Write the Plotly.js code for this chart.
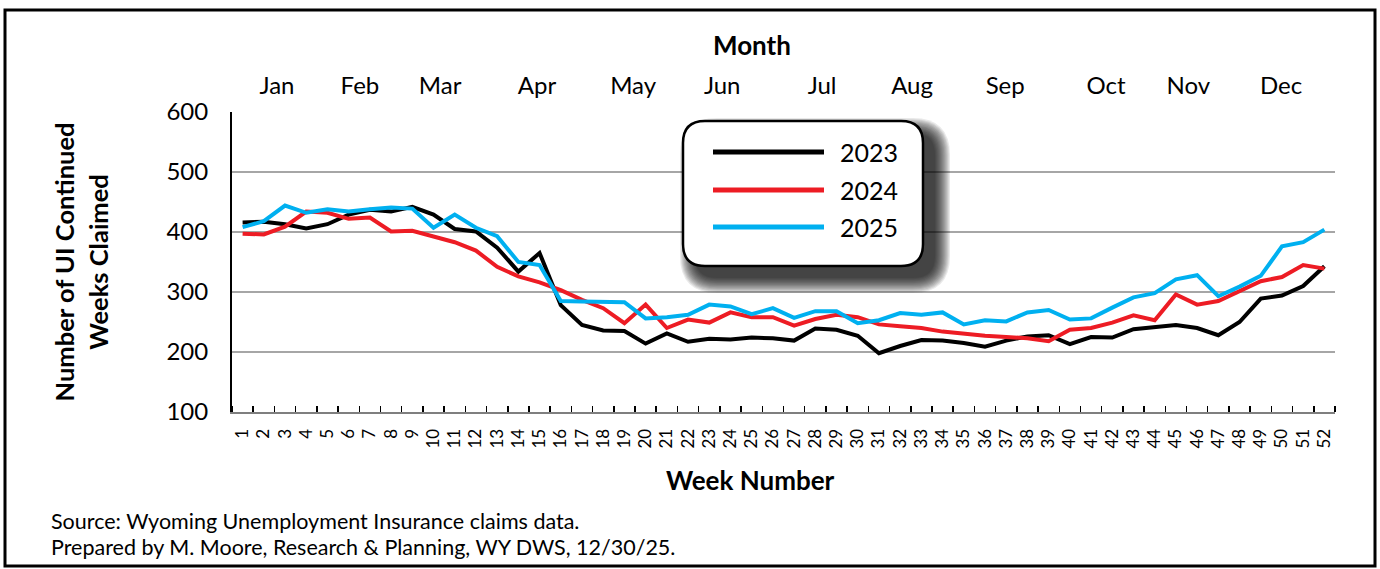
<!DOCTYPE html>
<html>
<head>
<meta charset="utf-8">
<script src="https://cdn.plot.ly/plotly-3.0.1.min.js"></script>
<style>html,body{margin:0;padding:0;background:#fff;}#chart{width:1380px;height:569px;}</style>
</head>
<body>
<div id="chart"></div>
<script>
// ---- data ----
const weeks = [1,2,3,4,5,6,7,8,9,10,11,12,13,14,15,16,17,18,19,20,21,22,23,24,25,26,27,28,29,30,31,32,33,34,35,36,37,38,39,40,41,42,43,44,45,46,47,48,49,50,51,52];
const claims2023 = [416,417,413,406,413,429,437,434,442,429,405,401,374,334,365,278,245,236,235,214,231,217,222,221,224,223,219,239,237,227,198,210,220,219,215,209,219,226,228,213,225,224,238,242,245,240,228,250,289,294,310,343];
const claims2024 = [397,396,409,434,432,422,424,401,402,393,383,369,342,326,316,303,287,273,248,279,240,254,249,266,258,258,244,255,262,258,246,243,240,234,230,227,225,223,218,237,240,249,261,253,296,279,285,302,318,325,345,339];
const claims2025 = [408,418,444,432,438,434,438,441,439,407,429,407,393,350,345,285,284,284,283,256,258,262,279,276,263,273,257,268,268,248,253,265,262,266,246,253,251,266,270,254,256,274,291,298,321,328,293,309,327,376,383,404];
const months = ["Jan","Feb","Mar","Apr","May","Jun","Jul","Aug","Sep","Oct","Nov","Dec"];
const monthPos = [2.62,6.53,10.31,14.88,19.41,23.61,28.32,32.56,36.95,41.71,45.58,49.96];
const yTicks = [100,200,300,400,500,600];
const seriesNames = ["2023","2024","2025"];
const seriesColors = ["#000000","#ed1c24","#00b0f0"];

// ---- layout helpers (pixel -> paper) ----
const ML = 232, MR = 45, MT = 112, MB = 157, W = 1380, H = 569;
const PW = W - ML - MR, PH = H - MT - MB;
const px = p => (p - ML) / PW;
const py = p => (H - MB - p) / PH;
function roundRect(x0, y0, x1, y1, r) {
  const P = (x, y) => px(x) + ',' + py(y);
  return 'M' + P(x0 + r, y0) + ' L' + P(x1 - r, y0) + ' Q' + P(x1, y0) + ' ' + P(x1, y0 + r) +
    ' L' + P(x1, y1 - r) + ' Q' + P(x1, y1) + ' ' + P(x1 - r, y1) +
    ' L' + P(x0 + r, y1) + ' Q' + P(x0, y1) + ' ' + P(x0, y1 - r) +
    ' L' + P(x0, y0 + r) + ' Q' + P(x0, y0) + ' ' + P(x0 + r, y0) + ' Z';
}

const FONT = 'Lato, "Open Sans", sans-serif';
const data = [claims2023, claims2024, claims2025];
const traces = data.map((vals, i) => ({
  x: weeks, y: vals, type: 'scatter', mode: 'lines', name: seriesNames[i],
  line: {color: seriesColors[i], width: 4}, showlegend: false
}));
traces.push({x: [monthPos[0]], y: [null], xaxis: 'x2', yaxis: 'y', type: 'scatter', mode: 'lines', showlegend: false, hoverinfo: 'skip'});

const shapes = [];
const annotations = [];
// outer frame
shapes.push({type: 'rect', xref: 'paper', yref: 'paper', x0: px(5), x1: px(1375), y0: py(10), y1: py(566), line: {color: '#000', width: 3}, fillcolor: 'rgba(0,0,0,0)', layer: 'above'});
// legend box with shadow
const LB = {x0: 683, y0: 121, x1: 923, y1: 266, r: 22};
for (let k = 0; k < 14; k++) {
  const s = 15 - k * 1.15;
  shapes.push({type: 'path', xref: 'paper', yref: 'paper', layer: 'above',
    path: roundRect(LB.x0 + 12 - s, LB.y0 + 12 - s, LB.x1 + 12 + s, LB.y1 + 12 + s, LB.r + s),
    fillcolor: 'rgba(0,0,0,0.085)', line: {width: 0}});
}
shapes.push({type: 'path', xref: 'paper', yref: 'paper', layer: 'above',
  path: roundRect(LB.x0, LB.y0, LB.x1, LB.y1, LB.r), fillcolor: '#ffffff', line: {color: '#000', width: 2.5}});
const legY = [152, 190, 227];
seriesNames.forEach((n, i) => {
  shapes.push({type: 'line', xref: 'paper', yref: 'paper', layer: 'above', x0: px(713), x1: px(824), y0: py(legY[i]), y1: py(legY[i]), line: {color: seriesColors[i], width: 5}});
  annotations.push({xref: 'paper', yref: 'paper', x: px(838), y: py(legY[i]), xanchor: 'left', yanchor: 'middle', text: n, showarrow: false, font: {family: FONT, size: 25, color: '#000'}});
});
// titles
annotations.push({xref: 'paper', yref: 'paper', x: px(752), y: py(45), xanchor: 'center', yanchor: 'middle', text: 'Month', showarrow: false, font: {family: FONT, size: 26, color: '#000', weight: 'bold'}});
annotations.push({xref: 'paper', yref: 'paper', x: px(750), y: py(480), xanchor: 'center', yanchor: 'middle', text: 'Week Number', showarrow: false, font: {family: FONT, size: 26, color: '#000', weight: 'bold'}});
annotations.push({xref: 'paper', yref: 'paper', x: px(49), y: py(521), xanchor: 'left', yanchor: 'middle', text: 'Source: Wyoming Unemployment Insurance claims data.', showarrow: false, font: {family: FONT, size: 21.5, color: '#000'}});
annotations.push({xref: 'paper', yref: 'paper', x: px(49), y: py(547), xanchor: 'left', yanchor: 'middle', text: 'Prepared by M. Moore, Research &amp; Planning, WY DWS, 12/30/25.', showarrow: false, font: {family: FONT, size: 21.5, color: '#000'}});

const layout = {
  width: W, height: H,
  margin: {l: ML, r: MR, t: MT, b: MB, pad: 0},
  paper_bgcolor: '#fff', plot_bgcolor: '#fff',
  font: {family: FONT, color: '#000'},
  showlegend: false,
  xaxis: {
    range: [0.5, 52.5], tickmode: 'array', tickvals: weeks, ticktext: weeks.map(String),
    tickangle: -90, ticks: '', tickfont: {size: 17, color: '#000'}, ticklabelstandoff: 8,
    minor: {ticks: 'inside', tickmode: 'linear', tick0: 0.5, dtick: 1, ticklen: 6, tickwidth: 1.5, tickcolor: '#000', showgrid: false},
    showline: true, linecolor: '#7f7f7f', linewidth: 2, showgrid: false, zeroline: false, fixedrange: true
  },
  xaxis2: {
    overlaying: 'x', side: 'top', range: [0.5, 52.5], tickmode: 'array', tickvals: monthPos, ticktext: months,
    ticks: '', showline: false, showgrid: false, zeroline: false, tickfont: {size: 24, color: '#000'}, ticklabelstandoff: 12
  },
  yaxis: {
    range: [100, 600], tickmode: 'array', tickvals: yTicks, ticks: '', tickfont: {size: 24, color: '#000'},
    ticklabelstandoff: 17, showgrid: true, gridcolor: '#a6a6a6', gridwidth: 1.5, zeroline: false,
    showline: true, linecolor: '#000', linewidth: 2,
    title: {text: 'Number of UI Continued<br>Weeks Claimed', font: {family: FONT, size: 25.5, color: '#000', weight: 'bold'}, standoff: 51}
  },
  shapes: shapes,
  annotations: annotations
};
Plotly.newPlot('chart', traces, layout, {displayModeBar: false, staticPlot: true});
</script>
</body>
</html>
